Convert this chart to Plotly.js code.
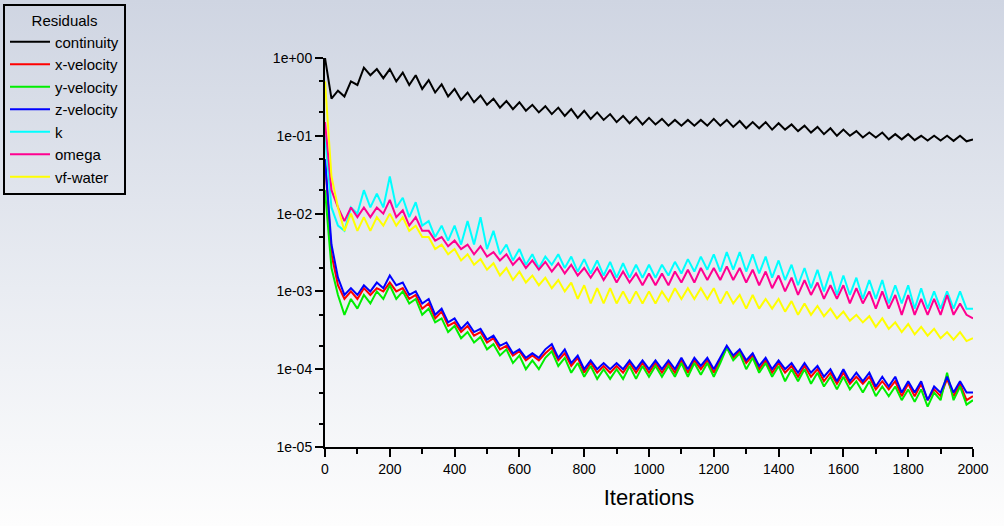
<!DOCTYPE html>
<html><head><meta charset="utf-8">
<script src="https://cdn.plot.ly/plotly-3.0.1.min.js"></script>
<style>html,body{margin:0;padding:0;}body{width:1004px;height:526px;background:linear-gradient(#cfd5e2,#e9ecf2 55%,#fdfdfd);}#c{width:1004px;height:526px;}</style>
</head><body><div id="c"></div>
<script>
const seriesNames=["continuity","x-velocity","y-velocity","z-velocity","k","omega","vf-water"];
const seriesColors=["#000000","#ff0000","#00ee00","#0000ff","#00ffff","#ff0090","#ffff00"];
const continuity=[1.0,0.3,0.38,0.32,0.5,0.45,0.75,0.6,0.72,0.55,0.72,0.5,0.65,0.45,0.6,0.4,0.52,0.36,0.46,0.32,0.4,0.29,0.36,0.27,0.33,0.25,0.3,0.23,0.28,0.22,0.27,0.21,0.25,0.2,0.24,0.19,0.23,0.18,0.22,0.17,0.21,0.165,0.2,0.16,0.19,0.15,0.18,0.145,0.175,0.14,0.17,0.14,0.165,0.135,0.16,0.135,0.16,0.135,0.16,0.135,0.165,0.135,0.16,0.13,0.155,0.125,0.15,0.125,0.15,0.12,0.145,0.12,0.14,0.115,0.135,0.11,0.13,0.105,0.125,0.1,0.12,0.1,0.115,0.095,0.11,0.095,0.11,0.09,0.105,0.09,0.105,0.088,0.1,0.087,0.1,0.087,0.1,0.086,0.1,0.085,0.09];
const xVelocity=[0.05,0.003,0.0012,0.0008,0.001,0.0008,0.0011,0.0009,0.0011,0.001,0.0013,0.001,0.0011,0.0008,0.0009,0.0006,0.0007,0.00045,0.00055,0.00036,0.0004,0.0003,0.00036,0.00027,0.0003,0.00022,0.00025,0.00018,0.0002,0.00015,0.00017,0.00013,0.00015,0.00013,0.00016,0.00019,0.00013,0.00016,0.00011,0.00014,0.00009,0.00012,0.00009,0.00011,0.00009,0.00011,0.00009,0.00012,0.00009,0.00012,0.00009,0.00012,0.00009,0.00012,0.00009,0.00013,0.00009,0.00013,0.0001,0.00013,0.00009,0.00013,0.00019,0.00014,0.00017,0.00012,0.00015,0.0001,0.00013,0.00009,0.00012,0.00009,0.00011,0.00008,0.00011,0.00008,0.0001,0.00007,0.00009,0.000065,0.00009,0.000065,0.00008,0.000065,0.00008,0.000055,0.00007,0.000055,0.00007,0.000045,0.000065,0.000045,0.000065,0.00004,0.000055,0.000045,0.000075,0.000045,0.000065,0.00004,0.000045];
const yVelocity=[0.02,0.002,0.0009,0.0005,0.0008,0.0006,0.0009,0.0007,0.001,0.0008,0.0012,0.0008,0.001,0.0007,0.0008,0.0005,0.0006,0.0004,0.00045,0.0003,0.00036,0.00025,0.0003,0.00022,0.00026,0.00018,0.00021,0.00015,0.00018,0.00012,0.00015,0.0001,0.00013,0.0001,0.00014,0.00017,0.00011,0.00014,0.00009,0.00012,0.00008,0.00011,0.000075,0.0001,0.000075,0.0001,0.000075,0.00011,0.000075,0.00011,0.00008,0.00011,0.00008,0.00011,0.00008,0.00012,0.00008,0.00012,0.000085,0.00012,0.00008,0.00012,0.00019,0.00013,0.00016,0.0001,0.00014,0.00009,0.00012,0.00008,0.00011,0.00007,0.0001,0.00007,0.0001,0.000065,0.00009,0.00006,0.00008,0.000055,0.00008,0.000055,0.00007,0.00005,0.00007,0.000045,0.00006,0.000045,0.00006,0.00004,0.000055,0.000038,0.000055,0.000033,0.00005,0.00004,0.00009,0.00004,0.00006,0.000035,0.00004];
const zVelocity=[0.05,0.004,0.0015,0.0009,0.0011,0.0009,0.0012,0.001,0.0013,0.0011,0.0016,0.0012,0.0013,0.0009,0.001,0.0007,0.0008,0.0005,0.0006,0.0004,0.00045,0.00033,0.0004,0.0003,0.00033,0.00024,0.00027,0.0002,0.00022,0.00016,0.00018,0.00014,0.00016,0.00014,0.00018,0.00021,0.00014,0.00018,0.00012,0.00015,0.0001,0.00013,0.0001,0.00012,0.0001,0.00012,0.0001,0.00013,0.0001,0.00013,0.0001,0.00013,0.0001,0.00013,0.0001,0.00014,0.0001,0.00014,0.00011,0.00014,0.0001,0.00014,0.0002,0.00015,0.00018,0.00013,0.00016,0.00011,0.00014,0.0001,0.00013,0.0001,0.00012,0.00009,0.00012,0.00009,0.00011,0.00008,0.0001,0.00007,0.0001,0.00007,0.00009,0.00007,0.00009,0.00006,0.00008,0.00006,0.00008,0.00005,0.00007,0.00005,0.00007,0.00004,0.00006,0.00005,0.00008,0.00005,0.00007,0.00005,0.00005];
const kValues=[0.1,0.012,0.007,0.006,0.012,0.01,0.02,0.012,0.018,0.012,0.03,0.012,0.016,0.009,0.014,0.007,0.008,0.005,0.007,0.0045,0.007,0.004,0.008,0.004,0.009,0.0035,0.006,0.003,0.004,0.0025,0.0035,0.0022,0.003,0.002,0.0028,0.0022,0.003,0.002,0.0028,0.0018,0.0026,0.0017,0.0025,0.0016,0.0024,0.0015,0.0023,0.0015,0.0022,0.0015,0.0022,0.0015,0.0022,0.0016,0.0024,0.0017,0.0026,0.0018,0.0028,0.0019,0.003,0.0018,0.0032,0.0019,0.0032,0.0018,0.003,0.0017,0.0028,0.0015,0.0025,0.0014,0.0022,0.0012,0.002,0.0011,0.0019,0.001,0.0018,0.0009,0.0016,0.0009,0.0015,0.0008,0.0014,0.0008,0.0014,0.0007,0.0012,0.0007,0.0012,0.0006,0.0011,0.0006,0.001,0.0006,0.001,0.0006,0.001,0.0006,0.0006];
const omegaValues=[0.15,0.02,0.012,0.008,0.012,0.009,0.012,0.009,0.012,0.01,0.015,0.009,0.011,0.007,0.009,0.006,0.006,0.0045,0.005,0.0038,0.0045,0.0035,0.004,0.003,0.0038,0.0028,0.0032,0.0025,0.003,0.0022,0.0027,0.002,0.0025,0.0019,0.0024,0.0018,0.0023,0.0017,0.0022,0.0016,0.002,0.0015,0.002,0.0014,0.0019,0.0013,0.0018,0.0013,0.0017,0.0012,0.0017,0.0012,0.0017,0.0012,0.0018,0.0013,0.0019,0.0013,0.002,0.0014,0.002,0.0014,0.0021,0.0014,0.002,0.0013,0.0019,0.0012,0.0018,0.0011,0.0016,0.001,0.0015,0.0009,0.0014,0.0009,0.0013,0.0008,0.0012,0.0008,0.0012,0.0007,0.0011,0.0007,0.001,0.0006,0.001,0.0006,0.0009,0.0005,0.0009,0.0005,0.0008,0.0005,0.0008,0.0005,0.0009,0.0005,0.0007,0.0005,0.00045];
const vfWater=[0.5,0.03,0.012,0.006,0.01,0.006,0.009,0.006,0.009,0.007,0.01,0.007,0.009,0.006,0.007,0.005,0.005,0.0035,0.004,0.003,0.0035,0.0025,0.003,0.0022,0.0026,0.0019,0.0023,0.0016,0.002,0.0014,0.0018,0.0013,0.0016,0.0012,0.0015,0.0011,0.0014,0.001,0.0013,0.0008,0.0012,0.0007,0.0011,0.0007,0.0011,0.0007,0.001,0.0007,0.001,0.0007,0.001,0.0007,0.001,0.00075,0.0011,0.0008,0.0011,0.0008,0.0011,0.0008,0.0011,0.0007,0.001,0.0007,0.0009,0.0006,0.0009,0.0006,0.0008,0.0006,0.0008,0.00055,0.00075,0.0005,0.0007,0.0005,0.00065,0.00048,0.0006,0.00045,0.00055,0.00042,0.0005,0.0004,0.00048,0.00035,0.00045,0.00033,0.0004,0.0003,0.00038,0.00028,0.00035,0.00027,0.00033,0.00025,0.0003,0.00024,0.0003,0.00023,0.00025];
const yTickVals=[1,0.1,0.01,0.001,0.0001,0.00001];
const yTickText=["1e+00","1e-01","1e-02","1e-03","1e-04","1e-05"];
const allValues=[continuity,xVelocity,yVelocity,zVelocity,kValues,omegaValues,vfWater];
const traces=allValues.map((v,i)=>({x:v.map((_,j)=>j*20),y:v,name:seriesNames[i],type:'scatter',mode:'lines',line:{color:seriesColors[i],width:2}}));
const layout={width:1004,height:526,margin:{l:325,r:31,t:58,b:79,autoexpand:false},paper_bgcolor:'rgba(0,0,0,0)',plot_bgcolor:'rgba(0,0,0,0)',
font:{family:'Liberation Sans, Arial',size:14,color:'#000'},
xaxis:{automargin:false,range:[0,2000],dtick:200,showgrid:false,zeroline:false,showline:true,linecolor:'#000',linewidth:2,ticks:'outside',ticklen:8,tickwidth:2,tickcolor:'#000',minor:{dtick:100,ticks:'outside',ticklen:5,tickcolor:'#000'},title:{text:'Iterations',font:{size:22},standoff:14}},
yaxis:{automargin:false,type:'log',range:[-5,0],tickvals:yTickVals,ticktext:yTickText,showgrid:false,zeroline:false,showline:true,linecolor:'#000',linewidth:2,ticks:'outside',ticklen:8,tickwidth:2,tickcolor:'#000',minor:{ticks:'outside',ticklen:4,tickcolor:'#000'}},
legend:{xref:'container',yref:'container',x:3/1004,xanchor:'left',y:1-4/526,yanchor:'top',bgcolor:'rgba(0,0,0,0)',bordercolor:'#000',borderwidth:2,font:{size:15},tracegroupgap:0,itemwidth:40,title:{text:'Residuals',side:'top center',font:{size:15}}},
showlegend:true};
Plotly.newPlot('c',traces,layout,{displayModeBar:false,staticPlot:true});
</script></body></html>
